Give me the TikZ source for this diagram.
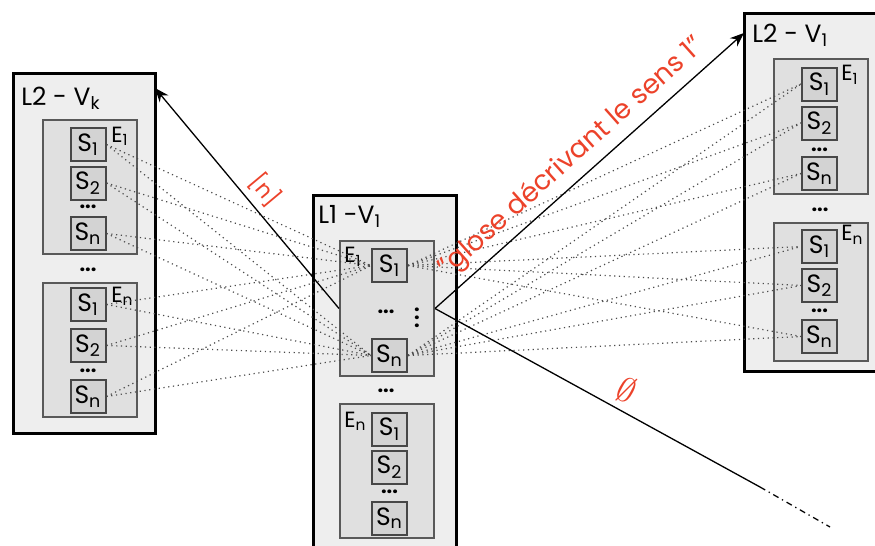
\documentclass[tikz,border=0pt]{standalone}
\usepackage{amsmath,amssymb}
\usepackage{fontspec}
\setmainfont{Poppins}
\usepackage{tikz}
\usetikzlibrary{positioning}
\usetikzlibrary{arrows.meta}

\definecolor{rouge}{RGB}{236,66,42}
\definecolor{fondV}{RGB}{238,238,238}
\definecolor{fondE}{RGB}{224,224,224}
\definecolor{fondS}{RGB}{211,211,211}

\begin{document}
\begin{tikzpicture}[x=0.5pt,y=-0.5pt,
    vbox/.style={draw=black,line width=1.5pt,fill=fondV,inner sep=0pt},
    ebox/.style={draw=black!65,line width=1pt,fill=fondE,inner sep=0pt,minimum width=47pt},
    sbox/.style={draw=black!72,line width=1pt,fill=fondS,inner sep=0pt,minimum width=17.5pt,minimum height=16.5pt,font=\fontsize{12.5}{14}\selectfont},
    titre/.style={anchor=base west,inner sep=0pt,font=\fontsize{12.5}{15}\selectfont},
    etiq/.style={anchor=base west,inner sep=0pt,font=\fontsize{11}{12}\selectfont},
    pts/.style={inner sep=0pt,font=\fontsize{10}{11}\selectfont\bfseries},
    lien/.style={line width=0.6pt,dash pattern=on 0.6pt off 1.8pt,black!70},
    fleche/.style={line width=0.65pt},
    glose/.style={text=rouge,sloped,above}]
  \useasboundingbox (0,0) rectangle (875,546);

  % les trois vedettes
  \node[vbox,minimum width=71pt,minimum height=180pt] (l2vk) at (84,253) {};
  \node[vbox,minimum width=71.5pt,minimum height=177pt] (l1v1) at (384.5,372) {};
  \node[vbox,minimum width=66.5pt,minimum height=179pt] (l2v1) at (810.5,192) {};
  \node[titre] (tlk) at (21,105) {L2 - V\textsubscript{k}};
  \node[titre] (tm) at (318,223) {L1 -V\textsubscript{1}};
  \node[titre] (tr) at (752,42) {L2 - V\textsubscript{1}};

  % les entrees
  \node[ebox,minimum height=67pt] (lkE1) at (90,187) {};
  \node[ebox,minimum height=67pt] (lkEn) at (90,350) {};
  \node[ebox,minimum height=67.5pt] (mE1) at (387,308.5) {};
  \node[ebox,minimum height=67pt] (mEn) at (387,471) {};
  \node[ebox,minimum height=67.5pt] (rE1) at (821,126.5) {};
  \node[ebox,minimum height=69pt] (rEn) at (821,292) {};
  \node[etiq] (elk1) at (111,142) {E\textsubscript{1}};
  \node[etiq] (elkn) at (111,302) {E\textsubscript{n}};
  \node[etiq] (em1) at (344,263) {E\textsubscript{1}};
  \node[etiq] (emn) at (344,427) {E\textsubscript{n}};
  \node[etiq] (er1) at (841,81) {E\textsubscript{1}};
  \node[etiq] (ern) at (841,241) {E\textsubscript{n}};

  % les sens
  \foreach \nom/\x/\y/\i in {lk1s1/88/144.5/1,lk1s2/88/183/2,lk1sn/88/233.5/n,
      lkns1/88/304.5/1,lkns2/88/345.5/2,lknsn/88/396.5/n,
      m1s1/389.5/265.5/1,m1sn/389.5/355.5/n,
      mns1/389.5/429/1,mns2/389.5/467/2,mnsn/389.5/518/n,
      r1s1/819.5/84/1,r1s2/819.5/123/2,r1sn/819.5/173.5/n,
      rns1/819.5/246.5/1,rns2/819.5/285.5/2,rnsn/819.5/336.5/n}
    \node[sbox] (\nom) at (\x,\y) {S\textsubscript{\i}};

  % points de suspension
  \node[pts] (plk1) at (88,207) {...};
  \node[pts] (plk) at (88,270) {...};
  \node[pts] (plkn) at (88,371) {...};
  \node[pts] (pm1) at (386,312) {...};
  \node[pts] (pm1v) at (417,312) {$\vdots$};
  \node[pts] (pm) at (386,391) {...};
  \node[pts] (pmn) at (389.5,492) {...};
  \node[pts] (pr1) at (819.5,150) {...};
  \node[pts] (pr) at (820,210) {...};
  \node[pts] (prn) at (819.5,311) {...};

  % liens entre les sens
  \foreach \s in {lk1s1,lk1s2,lk1sn,lkns1,lkns2,lknsn}
    \foreach \t in {m1s1,m1sn}
      \draw[lien] (\s.east) -- (\t.west);
  \foreach \s in {r1s1,r1s2,r1sn,rns1,rns2,rnsn}
    \foreach \t in {m1s1,m1sn}
      \draw[lien] (\t.east) -- (\s.west);

  % traductions
  \coordinate (flk) at (155,88);
  \coordinate (fv1) at (744,33);
  \coordinate (vide) at (760,487);
  \coordinate (videfin) at (830,527);
  \draw[fleche,{Stealth[length=7pt,width=5.5pt]}-] (flk) -- node[glose,pos=0.52,font=\fontsize{11}{12}\selectfont]{[n]} (mE1.west);
  \draw[fleche,-{Stealth[length=7pt,width=5.5pt]}] (mE1.east) -- node[glose,pos=0.49,font=\fontsize{13.5}{15}\selectfont]{"glose décrivant le sens 1"} (fv1);
  \draw[fleche] (mE1.east) -- node[glose,pos=0.56,font=\fontsize{17}{19}\selectfont]{$\emptyset$} (vide);
  \draw[fleche,dash dot] (vide) -- (videfin);
\end{tikzpicture}
\end{document}
